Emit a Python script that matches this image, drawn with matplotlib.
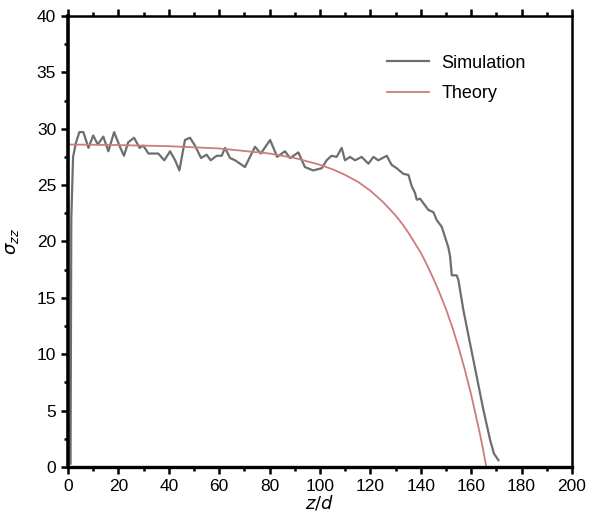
import numpy as np
import matplotlib
matplotlib.use('Agg')
from matplotlib import pyplot as plt
from matplotlib.ticker import MultipleLocator

# values
sim_z = [1.0, 1.3, 2.0, 3.2, 4.5, 6.1, 8.1, 10.0, 11.8, 14.0, 16.0, 18.3, 20.4,
         22.2, 23.9, 26.2, 28.4, 29.9, 31.9, 33.8, 35.8, 38.2, 40.5, 42.5, 44.2,
         46.4, 48.4, 50.4, 52.8, 55.0, 56.6, 59.0, 61.0, 62.3, 64.3, 66.3, 70.2,
         74.2, 76.5, 80.2, 83.0, 86.1, 88.1, 91.4, 94.0, 97.3, 100.7, 102.6,
         104.6, 106.6, 108.6, 109.9, 111.9, 113.9, 116.5, 119.2, 121.2, 123.1,
         126.5, 128.4, 130.4, 133.1, 135.1, 136.4, 137.7, 138.4, 139.7, 141.0,
         143.0, 145.0, 146.3, 148.3, 149.6, 150.9, 151.6, 152.3, 154.2, 154.9,
         156.9, 159.5, 162.2, 164.8, 167.5, 169.0, 170.8]
sim_s = [0.3, 22.0, 27.5, 28.8, 29.7, 29.7, 28.3, 29.4, 28.6, 29.3, 28.0, 29.7, 28.5,
         27.6, 28.8, 29.2, 28.3, 28.5, 27.8, 27.8, 27.8, 27.2, 28.0, 27.2, 26.3,
         29.0, 29.2, 28.5, 27.4, 27.7, 27.2, 27.6, 27.6, 28.3, 27.4, 27.2, 26.6,
         28.4, 27.8, 29.0, 27.5, 28.0, 27.4, 27.9, 26.6, 26.3, 26.5, 27.2,
         27.6, 27.5, 28.3, 27.2, 27.5, 27.2, 27.5, 26.9, 27.5, 27.2,
         27.6, 26.8, 26.5, 26.0, 25.9, 24.9, 24.3, 23.7, 23.8, 23.4,
         22.8, 22.6, 21.9, 21.3, 20.4, 19.5, 18.7, 17.0, 17.0, 16.6,
         13.9, 11.0, 8.0, 5.1, 2.4, 1.2, 0.6]

theory_z = [0, 20, 40, 60, 80, 90, 100, 105, 110, 115, 120, 122.5, 125, 127.5,
            130, 132.5, 135, 137.5, 140, 142.5, 145, 147.5, 150, 152.5, 155,
            157.5, 160, 161.5, 163, 164.5, 166]
theory_s = [28.6, 28.55, 28.45, 28.25, 27.8, 27.4, 26.8, 26.4, 25.9, 25.3, 24.5,
            24.0, 23.5, 22.9, 22.3, 21.6, 20.8, 19.9, 19.0, 17.9, 16.7, 15.4,
            14.0, 12.4, 10.6, 8.6, 6.4, 4.9, 3.4, 1.8, 0.0]

plt.rcParams['font.family'] = ['Liberation Sans', 'DejaVu Sans']

fig = plt.figure(figsize=(5.9, 5.22), dpi=100)
ax = fig.add_axes([0.1153, 0.1054, 0.8542, 0.864])

ax.plot(sim_z, sim_s, color='#6e6e6e', lw=1.6, label='Simulation')
ax.plot(theory_z, theory_s, color='#cc7c7c', lw=1.3, label='Theory')

ax.set_xlim(0, 200)
ax.set_ylim(0, 40)
ax.xaxis.set_major_locator(MultipleLocator(20))
ax.xaxis.set_minor_locator(MultipleLocator(10))
ax.yaxis.set_major_locator(MultipleLocator(5))
ax.yaxis.set_minor_locator(MultipleLocator(2.5))
ax.tick_params(which='both', direction='out', top=True, right=False,
               labelsize=12.5, width=1.8)
ax.tick_params(which='major', length=5)
ax.tick_params(which='minor', length=3)
for s in ax.spines.values():
    s.set_linewidth(1.8)
ax.spines['left'].set_linewidth(2.6)
ax.spines['bottom'].set_linewidth(2.4)

ax.set_xlabel('$z/d$', fontsize=13, labelpad=0)
ax.set_ylabel(r'$\sigma_{zz}$', fontsize=13, labelpad=11)

ax.legend(loc='upper right', bbox_to_anchor=(0.94, 0.95), frameon=False,
          fontsize=13, handlelength=2.3, handletextpad=0.7, labelspacing=0.75)

plt.savefig('out.png')
